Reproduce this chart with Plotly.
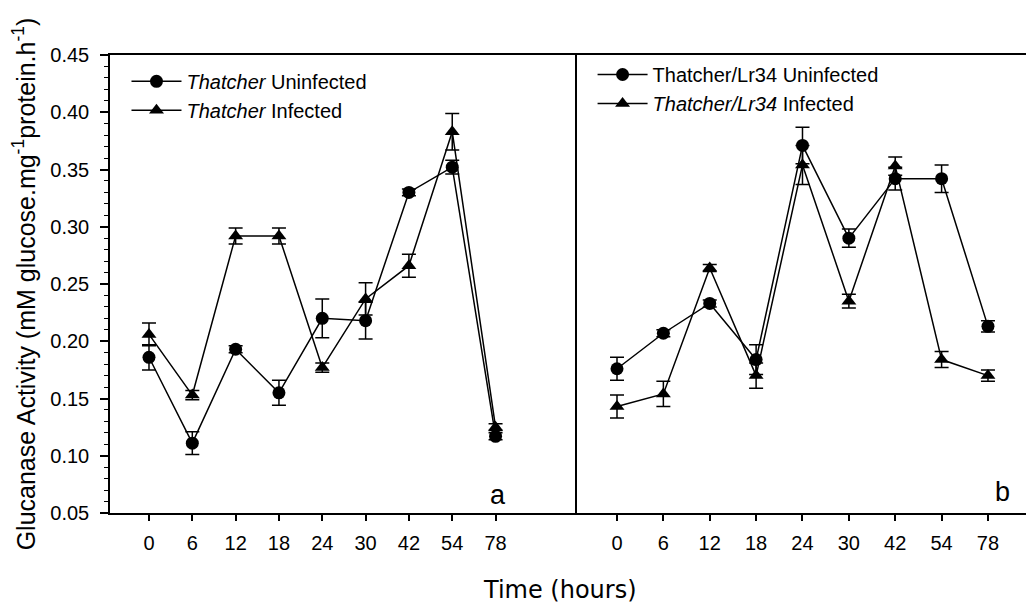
import plotly.graph_objects as go

times = ["0", "6", "12", "18", "24", "30", "42", "54", "78"]

# Panel a: Thatcher
a_uninf = [0.186, 0.111, 0.193, 0.155, 0.220, 0.218, 0.330, 0.352, 0.117]
a_uninf_err = [0.011, 0.010, 0.003, 0.011, 0.017, 0.016, 0.003, 0.006, 0.003]
a_inf = [0.206, 0.153, 0.292, 0.292, 0.177, 0.237, 0.266, 0.383, 0.125]
a_inf_err = [0.010, 0.004, 0.007, 0.007, 0.004, 0.014, 0.010, 0.016, 0.003]

# Panel b: Thatcher/Lr34
b_uninf = [0.176, 0.207, 0.233, 0.184, 0.371, 0.290, 0.342, 0.342, 0.213]
b_uninf_err = [0.010, 0.003, 0.003, 0.013, 0.016, 0.008, 0.010, 0.012, 0.005]
b_inf = [0.143, 0.154, 0.264, 0.170, 0.354, 0.235, 0.353, 0.184, 0.170]
b_inf_err = [0.010, 0.011, 0.003, 0.011, 0.017, 0.006, 0.008, 0.007, 0.005]

FONT = "Liberation Sans"
WIDE = "DejaVu Sans"
BLACK = "black"

fig = go.Figure()

def add(x, y, err, name, symbol, size, xa, ya, legend):
    fig.add_trace(go.Scatter(
        x=x, y=y, name=name, mode="lines+markers",
        line=dict(color=BLACK, width=1.5),
        marker=dict(symbol=symbol, size=size, color=BLACK),
        error_y=dict(type="data", array=err, color=BLACK, thickness=1.5, width=7),
        xaxis=xa, yaxis=ya, legend=legend,
    ))

add(times, a_uninf, a_uninf_err, "<i>Thatcher</i> Uninfected", "circle", 13, "x", "y", "legend")
add(times, a_inf, a_inf_err, "<i>Thatcher</i> Infected", "triangle-up", 13, "x", "y", "legend")
add(times, b_uninf, b_uninf_err, "Thatcher/Lr34 Uninfected", "circle", 13, "x2", "y2", "legend2")
add(times, b_inf, b_inf_err, "<i>Thatcher/Lr34</i> Infected", "triangle-up", 13, "x2", "y2", "legend2")

W, H = 1026, 606
ml, mr, mt, mb = 110, 0, 55, 93
pw = W - ml - mr
split = (577 - ml) / pw

xcommon = dict(type="category", showline=True, linecolor=BLACK, linewidth=1.5,
               ticks="outside", ticklen=6, tickwidth=1.5, tickcolor=BLACK,
               showgrid=False, zeroline=False, ticklabelstandoff=5,
               tickfont=dict(family=FONT, size=20, color=BLACK), mirror=True)

legfont = dict(family=FONT, size=20, color=BLACK)

fig.update_layout(
    width=W, height=H,
    margin=dict(l=ml, r=mr, t=mt, b=mb),
    paper_bgcolor="white", plot_bgcolor="white",
    font=dict(family=FONT, color=BLACK),
    xaxis=dict(domain=[0, split], range=[-0.9, 9.88], **xcommon),
    xaxis2=dict(domain=[split, 1], range=[-0.8625, 8.82], anchor="y2", **xcommon),
    yaxis=dict(range=[0.05, 0.45], dtick=0.05, tickformat=".2f",
               showline=True, linecolor=BLACK, linewidth=1.5,
               ticks="outside", ticklen=8, tickwidth=1.5, tickcolor=BLACK,
               minor=dict(dtick=0.01, ticks="outside", ticklen=4, tickwidth=1, tickcolor=BLACK),
               showgrid=False, zeroline=False, ticklabelstandoff=7,
               tickfont=dict(family=FONT, size=20, color=BLACK),
               title=dict(text="Glucanase Activity (mM glucose.mg<sup>-1</sup>protein.h<sup>-1</sup>)",
                          font=dict(family=FONT, size=25, color=BLACK), standoff=8)),
    yaxis2=dict(range=[0.05, 0.45], anchor="x2", showline=True, linecolor=BLACK, linewidth=2,
                showticklabels=False, ticks="", showgrid=False, zeroline=False),
    legend=dict(x=0.018, y=0.985, xanchor="left", yanchor="top", itemwidth=50,
                bgcolor="rgba(0,0,0,0)", font=legfont),
    legend2=dict(x=split + 0.017, y=1.0, xanchor="left", yanchor="top", itemwidth=50,
                 bgcolor="rgba(0,0,0,0)", font=legfont),
    annotations=[
        dict(text="a", x=8.05, y=0.066, xref="x", yref="y", showarrow=False,
             font=dict(family=FONT, size=27, color=BLACK)),
        dict(text="b", x=8.32, y=0.068, xref="x2", yref="y2", showarrow=False,
             font=dict(family=FONT, size=27, color=BLACK)),
        dict(text="Time (hours)", x=(560 - ml) / pw, y=-0.168, xref="paper", yref="paper",
             xanchor="center", yanchor="middle", showarrow=False,
             font=dict(family=WIDE, size=24, color=BLACK)),
    ],
)

fig.write_html("out.html")
